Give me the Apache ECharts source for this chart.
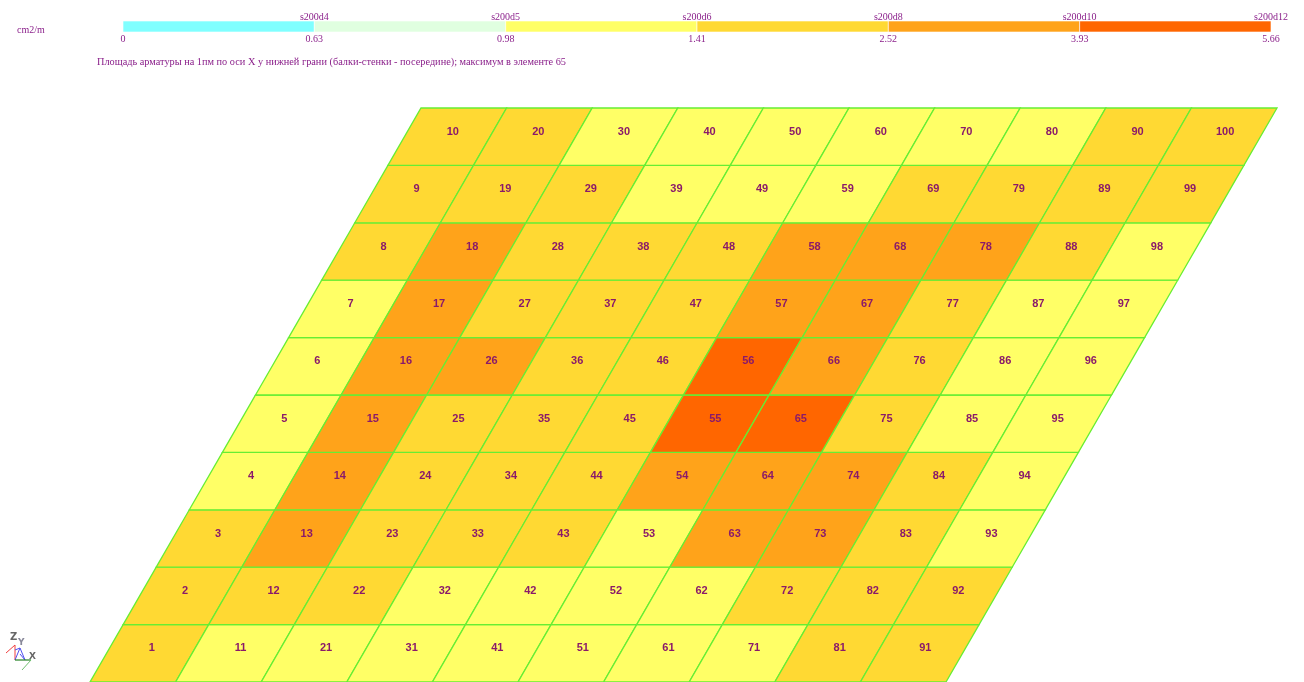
<!DOCTYPE html>
<html><head><meta charset="utf-8">
<style>html,body{margin:0;padding:0;background:#fff}#c{width:1304px;height:682px}</style>
<script src="https://cdn.jsdelivr.net/npm/echarts@6/dist/echarts.min.js"></script>
</head><body><div id="c"></div>
<script>
const unitLabel = 'cm2/m';
const titleText = 'Площадь арматуры на 1пм по оси X у нижней грани (балки-стенки - посередине); максимум в элементе 65';
const tickLabels = ['0','0.63','0.98','1.41','2.52','3.93','5.66'];
const rebarLabels = ['','s200d4','s200d5','s200d6','s200d8','s200d10','s200d12'];
const levelColors = ['#80FFFF','#E0FFE0','#FFFF66','#FFD933','#FFA31A','#FF6600'];
// level index per element; columns are tens (1-10, 11-20, ...), bottom to top
const col0 = [3,3,3,2,2,2,2,3,3,3];
const col1 = [2,3,4,4,4,4,4,4,3,3];
const col2 = [2,3,3,3,3,4,3,3,3,2];
const col3 = [2,2,3,3,3,3,3,3,2,2];
const col4 = [2,2,3,3,3,3,3,3,2,2];
const col5 = [2,2,2,4,5,5,4,4,2,2];
const col6 = [2,2,4,4,5,4,4,4,3,2];
const col7 = [2,3,4,4,3,3,3,4,3,2];
const col8 = [3,3,3,3,2,2,2,3,3,3];
const col9 = [3,3,2,2,2,2,2,2,3,3];
const columns = [col0,col1,col2,col3,col4,col5,col6,col7,col8,col9];

const cells = [];
columns.forEach((col,c)=>col.forEach((lv,r)=>cells.push([c,r,lv,c*10+r+1])));
const SKEW = 33.1/85.6;
const sk = (c,r)=>[c+r*SKEW,r];
const labelShift = [2.5,5.5,7.5];

const chart = echarts.init(document.getElementById('c'),null,{renderer:'canvas'});
const textColor = '#8A1F8A';
const axisBase = {show:true,axisLine:{show:false},axisTick:{show:false},splitLine:{show:false}};
chart.setOption({
  animation:false,
  backgroundColor:'#fff',
  grid:[
    {left:90,top:108,width:1187,height:574,containLabel:false},
    {left:123,top:21,width:1148,height:11}
  ],
  xAxis:[
    {type:'value',gridIndex:0,min:0,max:10+10*SKEW,show:false},
    {type:'value',gridIndex:1,min:0,max:6,interval:1,position:'bottom',...axisBase,
     axisLabel:{margin:2,fontFamily:'Liberation Serif',fontSize:10,color:textColor,formatter:(v)=>tickLabels[v]}},
    {type:'value',gridIndex:1,min:0,max:6,interval:1,position:'top',...axisBase,
     axisLabel:{margin:-1,fontFamily:'Liberation Serif',fontSize:10,color:textColor,formatter:(v)=>rebarLabels[v]}}
  ],
  yAxis:[
    {type:'value',gridIndex:0,min:0,max:10,show:false},
    {type:'value',gridIndex:1,min:0,max:1,show:false}
  ],
  graphic:[
    {type:'text',left:17,top:25,style:{text:unitLabel,fill:textColor,font:'10px "Liberation Serif"'}},
    {type:'text',left:97,top:57,style:{text:titleText,fill:textColor,font:'10.3px "Liberation Serif"'}},
    {type:'group',silent:true,children:[
      {type:'polyline',shape:{points:[[6,653],[15,645],[15,660]]},style:{stroke:'#F04040',fill:'none',lineWidth:1}},
      {type:'polyline',shape:{points:[[15,650],[20,648],[15,660]]},style:{stroke:'#5050F0',fill:'none',lineWidth:1}},
      {type:'polyline',shape:{points:[[20,648],[25,660],[20,654]]},style:{stroke:'#5050F0',fill:'none',lineWidth:1}},
      {type:'polyline',shape:{points:[[15,660],[31,660]]},style:{stroke:'#208020',fill:'none',lineWidth:1.2}},
      {type:'polyline',shape:{points:[[31,660],[22,670]]},style:{stroke:'#70C070',fill:'none',lineWidth:1}},
      {type:'text',x:10,y:632,style:{text:'Z',fill:'#666',font:'bold 10px "DejaVu Sans"'}},
      {type:'text',x:18,y:638,style:{text:'Y',fill:'#889',font:'bold 9px "DejaVu Sans"'}},
      {type:'text',x:29,y:652,style:{text:'X',fill:'#666',font:'bold 9px "DejaVu Sans"'}}
    ]}
  ],
  series:[
    {type:'custom',coordinateSystem:'cartesian2d',xAxisIndex:0,yAxisIndex:0,clip:false,silent:true,
     data:cells,
     renderItem:(p,api)=>{
       const c=api.value(0),r=api.value(1),lv=api.value(2),id=String(api.value(3));
       const pts=[sk(c,r),sk(c+1,r),sk(c+1,r+1),sk(c,r+1)].map(q=>api.coord(q));
       const ctr=api.coord(sk(c+0.5,r+0.5));
       return {type:'group',children:[
         {type:'polygon',shape:{points:pts},style:{fill:levelColors[lv],stroke:'#66EE33',lineWidth:1.3}},
         {type:'text',x:ctr[0]+labelShift[id.length-1],y:ctr[1]-5,z2:5,style:{text:id,fill:'#8A1A6A',
           font:'bold 11px "Liberation Sans"',textAlign:'center',textVerticalAlign:'middle'}}
       ]};
     }},
    {type:'custom',coordinateSystem:'cartesian2d',xAxisIndex:1,yAxisIndex:1,silent:true,
     data:levelColors.map((col,i)=>[i]),
     renderItem:(p,api)=>{
       const i=api.value(0);
       const a=api.coord([i,1]),b=api.coord([i+1,0]);
       return {type:'rect',shape:{x:a[0],y:a[1],width:b[0]-a[0],height:b[1]-a[1]},
         style:{fill:levelColors[i],stroke:'#fff',lineWidth:0.6}};
     }}
  ]
});
</script></body></html>
